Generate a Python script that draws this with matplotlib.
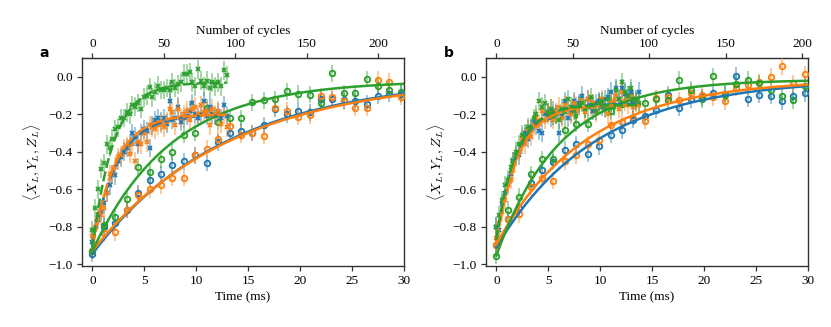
import numpy as np
import matplotlib
matplotlib.use("Agg")
import matplotlib.pyplot as plt
from matplotlib.colors import to_rgba

plt.rcParams['font.family'] = ['Liberation Serif', 'DejaVu Serif']
plt.rcParams['mathtext.fontset'] = 'cm'
plt.rcParams['font.size'] = 9.5

BLUE, ORANGE, GREEN = '#1f77b4', '#ff7f0e', '#2ca02c'

# ---------------- data ----------------
t_slow = [0.0, 1.1, 2.2, 3.3, 4.4, 5.5, 6.6, 7.7, 8.8, 9.9, 11.0, 12.1, 13.2, 14.3,
          15.4, 16.5, 17.6, 18.7, 19.8, 20.9, 22.0, 23.1, 24.2, 25.3, 26.4, 27.5, 28.6, 29.7]
t_fast_a = [0.0, 0.28, 0.55, 0.83, 1.1, 1.38, 1.65, 1.93, 2.2, 2.48, 2.75, 3.03, 3.3, 3.58,
            3.85, 4.13, 4.4, 4.68, 4.95, 5.23, 5.5, 5.78, 6.05, 6.33, 6.6, 6.88, 7.15, 7.43,
            7.7, 7.98, 8.25, 8.53, 8.8, 9.08, 9.35, 9.63, 9.9, 10.18, 10.45, 10.73, 11.0,
            11.28, 11.55, 11.83, 12.1, 12.38, 12.65, 12.93]
t_fast_b = t_fast_a + [13.2, 13.48, 13.75]

# panel a
a_green_fast = [-0.82, -0.70, -0.60, -0.49, -0.46, -0.36, -0.38, -0.33, -0.28, -0.27, -0.22,
                -0.22, -0.19, -0.20, -0.15, -0.16, -0.14, -0.17, -0.11, -0.10, -0.055, -0.11,
                -0.08, -0.047, -0.07, -0.07, -0.06, -0.07, -0.03, -0.06, -0.04, -0.03, 0.016,
                0.016, 0.025, -0.03, -0.05, 0.04, -0.02, -0.05, -0.02, -0.06, -0.03, -0.05,
                -0.03, -0.05, 0.035, 0.01]
a_blue_fast = [-0.88, -0.81, -0.765, -0.72, -0.675, -0.62, -0.58, -0.52, -0.525, -0.45, -0.43,
               -0.40, -0.38, -0.36, -0.30, -0.32, -0.36, -0.30, -0.28, -0.29, -0.38, -0.26,
               -0.23, -0.22, -0.24, -0.22, -0.25, -0.13, -0.23, -0.22, -0.16, -0.24, -0.22,
               -0.21, -0.18, -0.14, -0.20, -0.22, -0.20, -0.13, -0.21, -0.16, -0.20, -0.21,
               -0.19, -0.22, -0.15, -0.21]
a_orange_fast = [-0.85, -0.80, -0.74, -0.74, -0.70, -0.62, -0.52, -0.52, -0.48, -0.43, -0.42,
                 -0.38, -0.37, -0.41, -0.36, -0.45, -0.35, -0.36, -0.30, -0.35, -0.26, -0.27,
                 -0.28, -0.26, -0.25, -0.27, -0.24, -0.17, -0.19, -0.26, -0.17, -0.22, -0.20,
                 -0.18, -0.23, -0.17, -0.16, -0.20, -0.15, -0.19, -0.18, -0.26, -0.17, -0.20,
                 -0.18, -0.25, -0.20, -0.27]
a_green_slow = [-0.93, -0.79, -0.75, -0.65, -0.48, -0.51, -0.44, -0.40, -0.31, -0.30, -0.165,
                -0.24, -0.22, -0.22, -0.135, -0.125, -0.12, -0.077, -0.09, -0.096, -0.14, 0.018,
                -0.087, -0.087, -0.012, -0.048, -0.07, -0.083]
a_blue_slow = [-0.945, -0.80, -0.78, -0.71, -0.62, -0.55, -0.52, -0.47, -0.45, -0.42, -0.46,
               -0.35, -0.30, -0.29, -0.30, -0.26, -0.17, -0.20, -0.18, -0.19, -0.12, -0.12,
               -0.125, -0.13, -0.144, -0.10, -0.09, -0.09]
a_orange_slow = [-0.93, -0.835, -0.83, -0.71, -0.63, -0.60, -0.58, -0.54, -0.54, -0.42, -0.385,
                 -0.33, -0.265, -0.31, -0.30, -0.315, -0.165, -0.18, -0.215, -0.205, -0.105,
                 -0.108, -0.13, -0.165, -0.165, -0.015, -0.027, -0.108]

# panel b
b_blue_fast = [-0.80, -0.82, -0.68, -0.62, -0.57, -0.52, -0.45, -0.42, -0.42, -0.36, -0.30,
               -0.33, -0.27, -0.24, -0.26, -0.29, -0.30, -0.20, -0.19, -0.22, -0.18, -0.20,
               -0.30, -0.21, -0.13, -0.22, -0.19, -0.13, -0.16, -0.14, -0.10, -0.17, -0.12,
               -0.15, -0.18, -0.14, -0.13, -0.16, -0.12, -0.11, -0.08, -0.14, -0.06, -0.12,
               -0.06, -0.09, -0.10, -0.08, -0.14, -0.12, -0.08]
b_orange_fast = [-0.86, -0.78, -0.72, -0.66, -0.58, -0.55, -0.50, -0.43, -0.40, -0.33, -0.36,
                 -0.28, -0.32, -0.26, -0.22, -0.25, -0.18, -0.23, -0.20, -0.17, -0.23, -0.19,
                 -0.16, -0.22, -0.15, -0.17, -0.20, -0.14, -0.18, -0.16, -0.13, -0.19, -0.12,
                 -0.16, -0.14, -0.19, -0.15, -0.12, -0.16, -0.20, -0.14, -0.13, -0.10, -0.17,
                 -0.08, -0.13, -0.15, -0.11, -0.16, -0.14, -0.15]
b_green_fast = [-0.80, -0.74, -0.66, -0.58, -0.55, -0.48, -0.45, -0.40, -0.36, -0.31, -0.32,
                -0.27, -0.28, -0.22, -0.20, -0.13, -0.16, -0.14, -0.19, -0.17, -0.21, -0.20,
                -0.23, -0.17, -0.19, -0.12, -0.16, -0.18, -0.21, -0.15, -0.14, -0.17, -0.16,
                -0.11, -0.15, -0.18, -0.14, -0.13, -0.17, -0.12, -0.15, -0.16, -0.07, -0.12,
                -0.03, -0.08, -0.10, -0.06, -0.12, -0.13, -0.14]
b_green_slow = [-0.955, -0.71, -0.64, -0.52, -0.44, -0.44, -0.285, -0.25, -0.25, -0.135, -0.18,
                -0.147, -0.125, -0.14, -0.12, -0.126, -0.016, -0.07, -0.12, 0.002, -0.096,
                -0.037, -0.016, -0.034, -0.07, -0.10, -0.126, -0.05]
b_blue_slow = [-0.90, -0.76, -0.70, -0.565, -0.50, -0.455, -0.39, -0.36, -0.41, -0.37, -0.31,
               -0.285, -0.23, -0.21, -0.175, -0.096, -0.165, -0.12, -0.11, -0.085, -0.09,
               0.005, -0.117, -0.096, -0.10, -0.13, -0.10, -0.087]
b_orange_slow = [-0.90, -0.76, -0.735, -0.59, -0.54, -0.555, -0.45, -0.42, -0.36, -0.34, -0.26,
                 -0.24, -0.22, -0.235, -0.115, -0.11, -0.125, -0.085, -0.095, -0.11, -0.13,
                 -0.06, -0.045, -0.03, 0.0, 0.055, -0.035, 0.015]

# fit parameters (offset, amplitude, tau in ms): y = c - A exp(-t/tau)
fit_a_green_fast = (-0.03, 0.89, 2.0)
fit_a_blue_fast = (-0.20, 0.70, 2.4)
fit_a_orange_fast = (-0.20, 0.72, 2.2)
fit_a_green_slow = (-0.02, 0.91, 7.6)
fit_a_blue_slow = (0.0, 0.945, 12.8)
fit_a_orange_slow = (0.0, 0.93, 13.2)
fit_b_blue_fast = (-0.145, 0.73, 2.0)
fit_b_orange_fast = (-0.15, 0.74, 2.1)
fit_b_green_fast = (-0.15, 0.72, 1.9)
fit_b_green_slow = (-0.015, 0.94, 6.0)
fit_b_blue_slow = (-0.01, 0.90, 9.6)
fit_b_orange_slow = (-0.015, 0.88, 8.6)

cycle_time_a = 0.1376  # ms per cycle
cycle_time_b = 0.1471

err_fast = 0.05
err_slow = 0.045

# ---------------- plotting ----------------
fig = plt.figure(figsize=(8.31, 3.27), dpi=100)
ax_a = fig.add_axes([0.0987, 0.1865, 0.3875, 0.636])
ax_b = fig.add_axes([0.5848, 0.1865, 0.3875, 0.636])


def fit_curve(params, t_end):
    c, A, tau = params
    tt = np.linspace(0, t_end, 300)
    return tt, c - A * np.exp(-tt / tau)


def draw(ax, t, y, color, kind):
    ec = to_rgba(color, 0.5)
    if kind == 'slow':
        ax.errorbar(t, y, yerr=err_slow, fmt='o', ms=4, mfc='none', mec=color, mew=1.3,
                    ecolor=ec, elinewidth=1.2, capsize=0, zorder=3)
    else:
        ax.errorbar(t, y, yerr=err_fast, fmt='x', ms=3.5, mec=color, mew=1.3,
                    ecolor=ec, elinewidth=1.2, capsize=0, zorder=3)


def draw_fit(ax, params, t_end, color, ls):
    tt, yy = fit_curve(params, t_end)
    ax.plot(tt, yy, color=color, lw=1.8, ls=ls, zorder=4)


# panel a
for y, c in [(a_blue_slow, BLUE), (a_orange_slow, ORANGE), (a_green_slow, GREEN)]:
    draw(ax_a, t_slow, y, c, 'slow')
for y, c in [(a_blue_fast, BLUE), (a_orange_fast, ORANGE), (a_green_fast, GREEN)]:
    draw(ax_a, t_fast_a, y, c, 'fast')
draw_fit(ax_a, fit_a_blue_slow, 30, BLUE, '-')
draw_fit(ax_a, fit_a_orange_slow, 30, ORANGE, '-')
draw_fit(ax_a, fit_a_green_slow, 30, GREEN, '-')
draw_fit(ax_a, fit_a_blue_fast, t_fast_a[-1], BLUE, (0, (4, 1.5)))
draw_fit(ax_a, fit_a_orange_fast, t_fast_a[-1], ORANGE, (0, (6, 1)))
draw_fit(ax_a, fit_a_green_fast, t_fast_a[-1], GREEN, (0, (4, 1.5)))

# panel b
for y, c in [(b_blue_slow, BLUE), (b_orange_slow, ORANGE), (b_green_slow, GREEN)]:
    draw(ax_b, t_slow, y, c, 'slow')
for y, c in [(b_blue_fast, BLUE), (b_orange_fast, ORANGE), (b_green_fast, GREEN)]:
    draw(ax_b, t_fast_b, y, c, 'fast')
draw_fit(ax_b, fit_b_blue_slow, 30, BLUE, '-')
draw_fit(ax_b, fit_b_orange_slow, 30, ORANGE, '-')
draw_fit(ax_b, fit_b_green_slow, 30, GREEN, '-')
draw_fit(ax_b, fit_b_blue_fast, t_fast_b[-1], BLUE, (0, (4, 1.5)))
draw_fit(ax_b, fit_b_orange_fast, t_fast_b[-1], ORANGE, (0, (6, 1)))
draw_fit(ax_b, fit_b_green_fast, t_fast_b[-1], GREEN, (0, (4, 1.5)))

for ax, ct, lab in [(ax_a, cycle_time_a, 'a'), (ax_b, cycle_time_b, 'b')]:
    ax.set_xlim(-1, 30)
    ax.set_ylim(-1.01, 0.1)
    ax.set_xticks([0, 5, 10, 15, 20, 25, 30])
    ax.set_yticks([-1.0, -0.8, -0.6, -0.4, -0.2, 0.0])
    ax.set_yticklabels(['\u22121.0', '\u22120.8', '\u22120.6', '\u22120.4', '\u22120.2', '0.0'])
    ax.set_xlabel('Time (ms)', labelpad=3)
    ax.set_ylabel(r'$\langle X_L, Y_L, Z_L\rangle$', fontsize=10, labelpad=4)
    for sp in ax.spines.values():
        sp.set_color('#333333')
        sp.set_linewidth(1.0)
    ax.tick_params(length=3.5, width=0.9, color='#333333', pad=3)
    sec = ax.secondary_xaxis('top', functions=(lambda x, ct=ct: x / ct,
                                               lambda n, ct=ct: n * ct))
    sec.set_xticks([0, 50, 100, 150, 200])
    sec.set_xlabel('Number of cycles', labelpad=3)
    sec.tick_params(length=3.5, width=0.9, color='#333333', pad=2)
    sec.spines['top'].set_color('#333333')

fig.text(44 / 831, 1 - 53 / 327, 'a', fontweight='bold', family='DejaVu Sans',
         fontsize=10, ha='center', va='center')
fig.text(449 / 831, 1 - 53 / 327, 'b', fontweight='bold', family='DejaVu Sans',
         fontsize=10, ha='center', va='center')

fig.savefig('out.png', dpi=100)
